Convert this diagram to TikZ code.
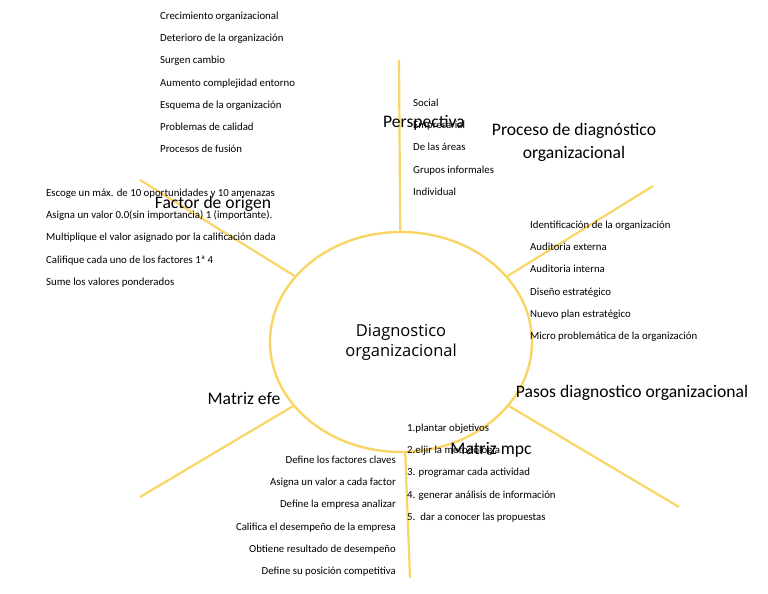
\documentclass[tikz,border=0pt]{standalone}
\usepackage{fontspec}
\setmainfont{Carlito}
\newfontfamily\roundfont{Open Sans}
\usetikzlibrary{shapes.geometric}
\usetikzlibrary{positioning}
\definecolor{gold}{RGB}{248,213,100}
\tikzset{%
  spoke/.style = {draw=gold,line width=2.2pt},
  hub/.style = {ellipse,draw=gold,line width=2.4pt,minimum width=262pt,
        minimum height=220pt,inner sep=0pt,align=center,
        font=\roundfont\fontsize{16.5}{20}\selectfont},
  head/.style = {inner sep=0pt,align=center,
        font=\fontsize{17.6}{23}\selectfont},
  item/.style = {inner sep=0pt,text height=8pt,text depth=2.5pt,anchor=west,
        font=\fontsize{10.8}{12}\selectfont},
  ritem/.style = {item,anchor=east}
}

\begin{document}
\begin{tikzpicture}[x=1pt,y=-1pt,node distance=11.2pt and 0pt]
   \useasboundingbox (0,0) rectangle (768,594);
   \node[hub] (diag) at (401,342) {Diagnostico\\organizacional};
   % free ends of the spokes
   \coordinate (persp-end) at (399,60);
   \coordinate (proceso-end) at (653,186);
   \coordinate (pasos-end) at (679,507);
   \coordinate (mpc-end) at (410,578);
   \coordinate (efe-end) at (140,497);
   \coordinate (factor-end) at (140,180);
   \draw[spoke] (diag) -- (persp-end);
   \draw[spoke] (diag) -- (proceso-end);
   \draw[spoke] (diag) -- (pasos-end);
   \draw[spoke] (diag) -- (mpc-end);
   \draw[spoke] (diag) -- (efe-end);
   \draw[spoke] (diag) -- (factor-end);
   % headings
   \node[head] (persp) at (424,123) {Perspectiva};
   \node[head] (proceso) at (574,142) {Proceso de diagnóstico\\organizacional};
   \node[head] (pasos) at (632,393) {Pasos diagnostico organizacional};
   \node[head] (mpc) at (491,450) {Matriz mpc};
   \node[head] (efe) at (244,399) {Matriz efe};
   \node[head] (factor) at (213,204) {Factor de origen};
   % causes
   \node[item] (c1) at (160,17) {Crecimiento organizacional};
   \node[item] (c2) [below=of c1.south west,anchor=north west] {Deterioro de la organización};
   \node[item] (c3) [below=of c2.south west,anchor=north west] {Surgen cambio};
   \node[item] (c4) [below=of c3.south west,anchor=north west] {Aumento complejidad entorno};
   \node[item] (c5) [below=of c4.south west,anchor=north west] {Esquema de la organización};
   \node[item] (c6) [below=of c5.south west,anchor=north west] {Problemas de calidad};
   \node[item] (c7) [below=of c6.south west,anchor=north west] {Procesos de fusión};
   % perspectives
   \node[item] (p1) at (413,104) {Social};
   \node[item] (p2) [below=of p1.south west,anchor=north west] {Empresarial};
   \node[item] (p3) [below=of p2.south west,anchor=north west] {De las áreas};
   \node[item] (p4) [below=of p3.south west,anchor=north west] {Grupos informales};
   \node[item] (p5) [below=of p4.south west,anchor=north west] {Individual};
   % process
   \node[item] (s1) at (530,226) {Identificación de la organización};
   \node[item] (s2) [below=of s1.south west,anchor=north west] {Auditoria externa};
   \node[item] (s3) [below=of s2.south west,anchor=north west] {Auditoria interna};
   \node[item] (s4) [below=of s3.south west,anchor=north west] {Diseño estratégico};
   \node[item] (s5) [below=of s4.south west,anchor=north west] {Nuevo plan estratégico};
   \node[item] (s6) [below=of s5.south west,anchor=north west] {Micro problemática de la organización};
   % steps
   \node[item] (m1) at (407,429) {1.plantar objetivos};
   \node[item] (m2) [below=of m1.south west,anchor=north west] {2.eljir la metodología};
   \node[item] (m3) [below=of m2.south west,anchor=north west] {3. programar cada actividad};
   \node[item] (m4) [below=of m3.south west,anchor=north west] {4. generar análisis de información};
   \node[item] (m5) [below=of m4.south west,anchor=north west] {5.\ \ dar a conocer las propuestas};
   % matriz efe
   \node[ritem] (e1) at (396,461) {Define los factores claves};
   \node[ritem] (e2) [below=of e1.south east,anchor=north east] {Asigna un valor a cada factor};
   \node[ritem] (e3) [below=of e2.south east,anchor=north east] {Define la empresa analizar};
   \node[ritem] (e4) [below=of e3.south east,anchor=north east] {Califica el desempeño de la empresa};
   \node[ritem] (e5) [below=of e4.south east,anchor=north east] {Obtiene resultado de desempeño};
   \node[ritem] (e6) [below=of e5.south east,anchor=north east] {Define su posición competitiva};
   % factor de origen
   \node[item] (f1) at (46,194) {Escoge un máx. de 10 oportunidades y 10 amenazas};
   \node[item] (f2) [below=of f1.south west,anchor=north west] {Asigna un valor 0.0(sin importancia) 1 (importante).};
   \node[item] (f3) [below=of f2.south west,anchor=north west] {Multiplique el valor asignado por la calificación dada};
   \node[item] (f4) [below=of f3.south west,anchor=north west] {Califique cada uno de los factores 1ª 4};
   \node[item] (f5) [below=of f4.south west,anchor=north west] {Sume los valores ponderados};
\end{tikzpicture}
\end{document}
